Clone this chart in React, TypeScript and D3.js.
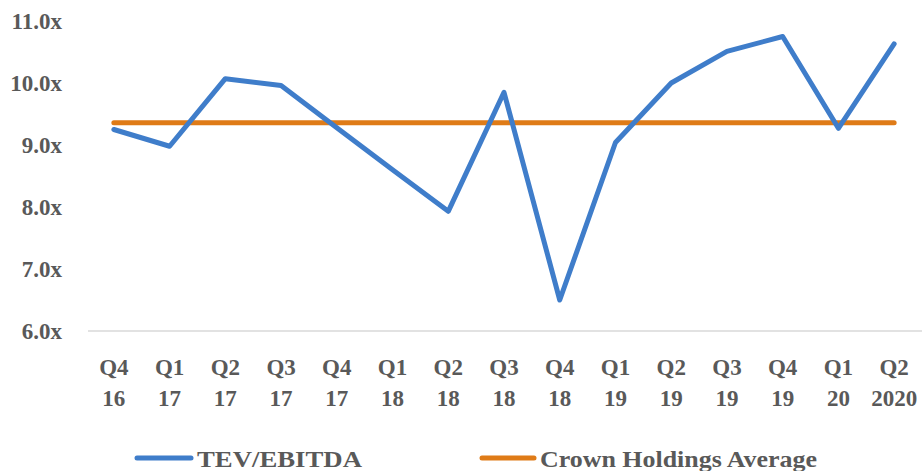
import React from "react";
import * as d3 from "d3";

const categories = ["Q4 16","Q1 17","Q2 17","Q3 17","Q4 17","Q1 18","Q2 18","Q3 18","Q4 18","Q1 19","Q2 19","Q3 19","Q4 19","Q1 20","Q2 2020"];
const tevEbitda = [9.25, 8.98, 10.07, 9.96, 9.28, 8.6, 7.93, 9.85, 6.5, 9.04, 10.0, 10.51, 10.75, 9.27, 10.63];
const average = categories.map(() => 9.36);
const yTicks = [6, 7, 8, 9, 10, 11];
const seriesNames = ["TEV/EBITDA", "Crown Holdings Average"];

const W = 922, H = 471;
const left = 86, right = 922, top = 21, bottom = 331;
const BLUE = "#3F7DCA", ORANGE = "#DF7B17", TEXT = "#595959";
const FONT = "'Liberation Serif', 'Times New Roman', serif";

export default function App() {
  const x = d3.scalePoint<string>().domain(categories).range([left, right]).padding(0.5);
  const y = d3.scaleLinear().domain([6, 11]).range([bottom, top]);
  const line = d3.line<number>().x((_, i) => x(categories[i])!).y(d => y(d));
  return (
    <svg width={W} height={H} style={{ position: "absolute", left: 0, top: 0 }} fontFamily={FONT}>
      <rect width={W} height={H} fill="#fff" />
      <line x1={left + 2} x2={right} y1={y(6)} y2={y(6)} stroke="#d9d9d9" strokeWidth={1.5} />
      {yTicks.map(t => (
        <text key={t} x={62} y={y(t)} dy="0.34em" textAnchor="end" fontSize={23} fontWeight="bold" fill={TEXT}>
          {t.toFixed(1) + "x"}
        </text>
      ))}
      {categories.map(c => {
        const [a, b] = c.split(" ");
        return (
          <g key={c} transform={`translate(${x(c)},0)`}>
            <text y={375} textAnchor="middle" fontSize={23} fontWeight="bold" fill={TEXT}>{a}</text>
            <text y={406} textAnchor="middle" fontSize={23} fontWeight="bold" fill={TEXT}>{b}</text>
          </g>
        );
      })}
      <path d={line(average)!} fill="none" stroke={ORANGE} strokeWidth={5} strokeLinecap="round" />
      <path d={line(tevEbitda)!} fill="none" stroke={BLUE} strokeWidth={5} strokeLinecap="round" strokeLinejoin="round" />
      <g>
        <line x1={137} x2={191} y1={458} y2={458} stroke={BLUE} strokeWidth={5} strokeLinecap="round" />
        <text x={197} y={467} fontSize={24} fontWeight="bold" fill={TEXT} textLength={165} lengthAdjust="spacingAndGlyphs">{seriesNames[0]}</text>
        <line x1={482} x2={534} y1={458} y2={458} stroke={ORANGE} strokeWidth={5} strokeLinecap="round" />
        <text x={540} y={467} fontSize={24} fontWeight="bold" fill={TEXT} textLength={277} lengthAdjust="spacingAndGlyphs">{seriesNames[1]}</text>
      </g>
    </svg>
  );
}
